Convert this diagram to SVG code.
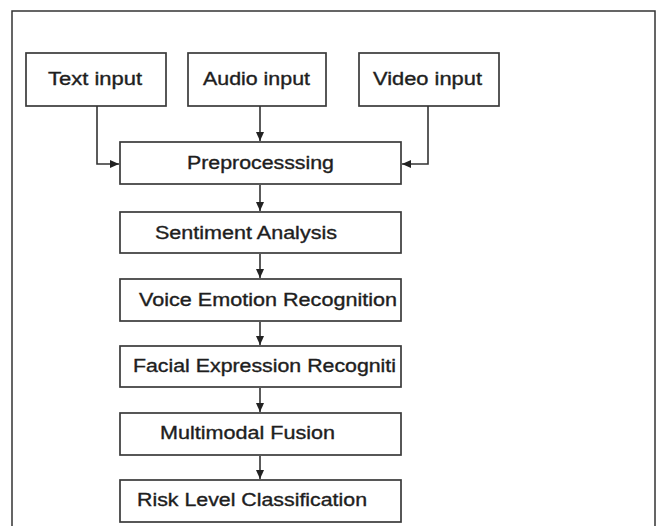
<svg xmlns="http://www.w3.org/2000/svg" width="658" height="526" viewBox="0 0 658 526">
<style>
.box{fill:#fff;stroke:#3a3a3a;stroke-width:1.7}
.lbl{font-family:"Liberation Sans",Arial,sans-serif;font-size:17.5px;fill:#1e1e1e;stroke:#1e1e1e;stroke-width:0.35}
.con{fill:none;stroke:#333;stroke-width:1.6}
</style>
<defs>
<marker id="ah" markerWidth="9" markerHeight="8" refX="9" refY="4" orient="auto" markerUnits="userSpaceOnUse">
<path d="M0,0 L9,4 L0,8 Z" fill="#222"/>
</marker>
</defs>
<rect x="0" y="0" width="658" height="526" fill="#fff"/>
<rect x="12" y="11" width="643" height="530" fill="none" stroke="#333" stroke-width="1.5"/>
<g id="text-input"><rect class="box" x="26" y="53" width="140" height="53"/><text class="lbl" x="48" y="85" textLength="94" lengthAdjust="spacingAndGlyphs">Text input</text></g>
<g id="audio-input"><rect class="box" x="188" y="53" width="138" height="53"/><text class="lbl" x="203" y="85" textLength="107" lengthAdjust="spacingAndGlyphs">Audio input</text></g>
<g id="video-input"><rect class="box" x="359" y="53" width="140" height="53"/><text class="lbl" x="373" y="85" textLength="109" lengthAdjust="spacingAndGlyphs">Video input</text></g>
<g id="preprocessing"><rect class="box" x="120" y="142" width="281" height="42"/><text class="lbl" x="187" y="169" textLength="147" lengthAdjust="spacingAndGlyphs">Preprocesssing</text></g>
<g id="sentiment"><rect class="box" x="120" y="212" width="281" height="41"/><text class="lbl" x="155" y="239" textLength="182" lengthAdjust="spacingAndGlyphs">Sentiment Analysis</text></g>
<g id="voice"><rect class="box" x="120" y="279" width="281" height="42"/><text class="lbl" x="139" y="306" textLength="258" lengthAdjust="spacingAndGlyphs">Voice Emotion Recognition</text></g>
<g id="facial"><rect class="box" x="120" y="346" width="281" height="41"/><text class="lbl" x="133" y="372" textLength="263" lengthAdjust="spacingAndGlyphs">Facial Expression Recogniti</text></g>
<g id="fusion"><rect class="box" x="120" y="413" width="281" height="42"/><text class="lbl" x="160" y="439" textLength="175" lengthAdjust="spacingAndGlyphs">Multimodal Fusion</text></g>
<g id="risk"><rect class="box" x="120" y="480" width="281" height="42"/><text class="lbl" x="137" y="506" textLength="230" lengthAdjust="spacingAndGlyphs">Risk Level Classification</text></g>
<g id="connectors">
<path class="con" d="M97,106 V164 H119" marker-end="url(#ah)"/>
<path class="con" d="M260,106 V141" marker-end="url(#ah)"/>
<path class="con" d="M428,106 V164 H402" marker-end="url(#ah)"/>
<path class="con" d="M260,185 V211" marker-end="url(#ah)"/>
<path class="con" d="M260,254 V278" marker-end="url(#ah)"/>
<path class="con" d="M260,322 V345" marker-end="url(#ah)"/>
<path class="con" d="M260,388 V412" marker-end="url(#ah)"/>
<path class="con" d="M260,456 V479" marker-end="url(#ah)"/>
</g>
</svg>
